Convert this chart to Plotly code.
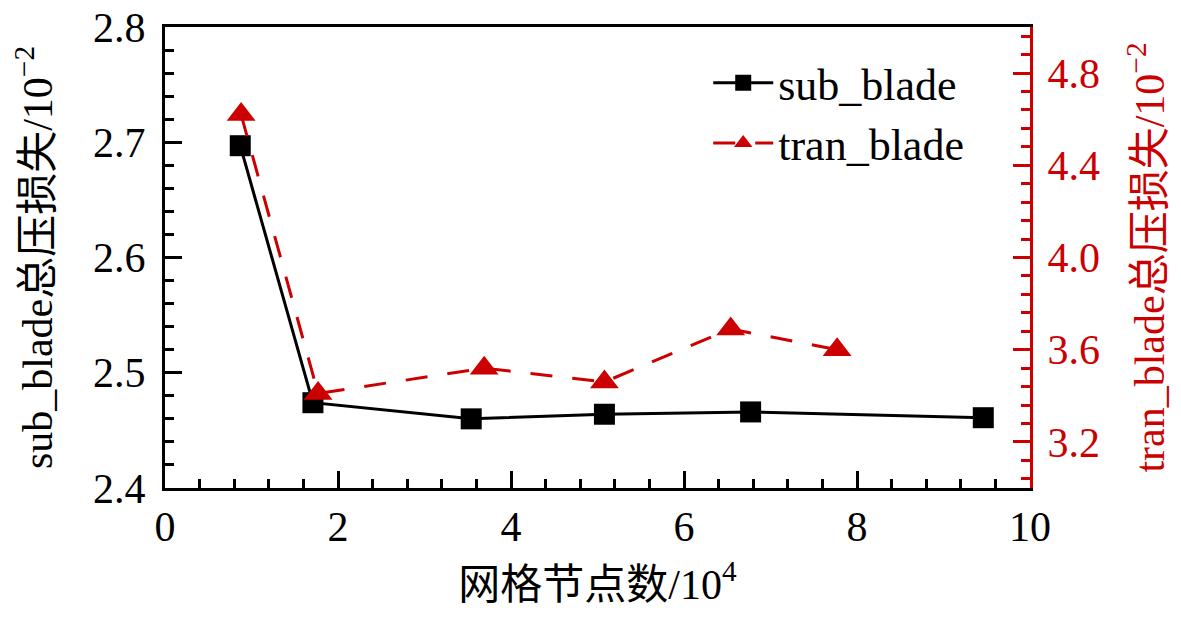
import plotly.graph_objects as go

# data
sub_x = [0.87, 1.71, 3.54, 5.08, 6.77, 9.46]
sub_y = [2.697, 2.474, 2.460, 2.464, 2.466, 2.461]
tran_x = [0.88, 1.77, 3.69, 5.08, 6.54, 7.77]
tran_y = [4.62, 3.41, 3.52, 3.46, 3.69, 3.60]

RED = "#CC0000"
FONT = "Liberation Serif, Times New Roman, Noto Sans CJK SC"

fig = go.Figure()
fig.add_trace(go.Scatter(
    x=sub_x, y=sub_y, name="sub_blade", mode="lines+markers", legendgroup="a",
    line=dict(color="black", width=3),
    marker=dict(symbol="square", size=21, color="black"),
))
fig.add_trace(go.Scatter(
    x=tran_x, y=tran_y, name="tran_blade", mode="lines+markers", yaxis="y2",
    legendgroup="b",
    line=dict(color=RED, width=3, dash="22px,20px"),
    marker=dict(symbol="triangle-up", size=25, color=RED),
))

fig.update_layout(
    width=1165, height=600,
    margin=dict(l=157, r=143, t=19, b=120, autoexpand=False),
    plot_bgcolor="white", paper_bgcolor="white",
    font=dict(family=FONT, size=42, color="black"),
    showlegend=True,
    legend=dict(x=0.628, y=0.955, xanchor="left", yanchor="top",
                bgcolor="rgba(0,0,0,0)", font=dict(size=44),
                traceorder="grouped", tracegroupgap=0, itemwidth=60),
    xaxis=dict(
        range=[0, 10], dtick=2, tick0=0, automargin=True,
        showline=True, linecolor="black", linewidth=3, mirror=True,
        ticks="inside", ticklen=17, tickwidth=3, tickcolor="black",
        minor=dict(dtick=0.4, ticks="inside", ticklen=9, tickwidth=3, tickcolor="black"),
        showgrid=False, zeroline=False,
        tickfont=dict(size=42), ticklabeloverflow="allow",
        title=dict(text="网格节点数/10<sup>4</sup>", font=dict(size=42), standoff=26),
    ),
    yaxis=dict(
        range=[2.4, 2.8], dtick=0.1, tick0=2.4, tickformat=".1f", automargin=False,
        showline=True, linecolor="black", linewidth=3,
        ticks="inside", ticklen=17, tickwidth=3, tickcolor="black",
        minor=dict(dtick=0.02, ticks="inside", ticklen=9, tickwidth=3, tickcolor="black"),
        showgrid=False, zeroline=False,
        tickfont=dict(size=42), ticklabeloverflow="allow", ticklabelstandoff=8,
        title=dict(text="sub_blade总压损失/10<sup>−2</sup>", font=dict(size=42), standoff=30),
    ),
    yaxis2=dict(
        overlaying="y", side="right", automargin=False,
        range=[3.0, 5.0], dtick=0.4, tick0=3.2, tickformat=".1f",
        showline=True, linecolor=RED, linewidth=3,
        ticks="inside", ticklen=17, tickwidth=3, tickcolor=RED,
        minor=dict(dtick=0.08, ticks="inside", ticklen=9, tickwidth=3, tickcolor=RED),
        showgrid=False, zeroline=False,
        tickfont=dict(color=RED, size=42), ticklabeloverflow="allow", ticklabelstandoff=6,
        title=dict(text="tran_blade总压损失/10<sup>−2</sup>", font=dict(size=42, color=RED), standoff=36),
    ),
)

fig.write_html("out.html")
